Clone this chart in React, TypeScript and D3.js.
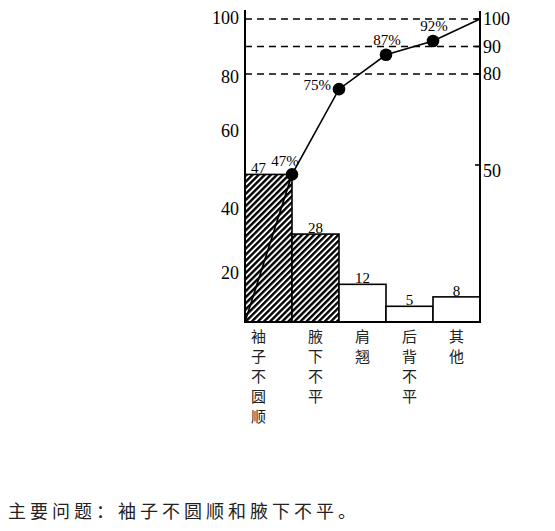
import React from "react";
import * as d3 from "d3";

const categories = ["袖子不圆顺", "腋下不平", "肩翘", "后背不平", "其他"];
const counts = [47, 28, 12, 5, 8];
const cumulative = [47, 75, 87, 92, 100];
const hatched = [true, true, false, false, false];
const leftTicks = [20, 40, 60, 80, 100];
const rightTicks = [50, 80, 90, 100];
const dashedLevels = [80, 90, 100];
const note = "主要问题：袖子不圆顺和腋下不平。";

export default function App() {
  const x = d3.scaleBand<string>().domain(categories).range([245, 480]).padding(0);
  // hand-drawn (non-uniform) vertical scale of the original figure
  const y = d3.scaleLinear().domain([0, 50, 80, 100]).range([322, 165, 74, 19]);
  const yLeftLabel = d3
    .scaleLinear()
    .domain([0, 20, 40, 60, 80, 100])
    .range([322, 273, 209, 131, 77, 18]);

  const pts: [number, number][] = [[x.range()[0], y(0)]];
  categories.forEach((c, i) => pts.push([(x(c) as number) + x.bandwidth(), y(cumulative[i])]));
  const line = d3.line();

  const serif = "'Liberation Serif', 'DejaVu Serif', serif";
  const cjk = "'Noto Sans CJK SC', sans-serif";

  const pctPlace = (i: number) => {
    if (i === 0) return { anchor: "middle", dx: -7, dy: -8 };
    if (i === 1) return { anchor: "end", dx: -8, dy: 1 };
    return { anchor: "middle", dx: 1, dy: -10 };
  };

  return (
    <svg
      width={555}
      height={531}
      style={{ position: "absolute", left: 0, top: 0, background: "#fff" }}
    >
      <defs>
        <pattern
          id="hatch"
          patternUnits="userSpaceOnUse"
          width={4.3}
          height={4.3}
          patternTransform="rotate(45)"
        >
          <rect width={4.3} height={4.3} fill="#fff" />
          <rect x={0} y={0} width={2.4} height={4.3} fill="#000" />
        </pattern>
      </defs>

      {/* bars */}
      {categories.map((c, i) => (
        <rect
          key={c}
          x={x(c)}
          y={y(counts[i])}
          width={x.bandwidth()}
          height={y(0) - y(counts[i])}
          fill={hatched[i] ? "url(#hatch)" : "#fff"}
          stroke="#000"
          strokeWidth={1.6}
        />
      ))}

      {/* bar values */}
      {categories.map((c, i) => (
        <text
          key={"v" + c}
          x={(x(c) as number) + x.bandwidth() / 2 + (i === 0 ? -10 : 0)}
          y={y(counts[i]) - 1}
          textAnchor="middle"
          fontFamily={serif}
          fontSize={15}
        >
          {counts[i]}
        </text>
      ))}

      {/* dashed reference lines */}
      {dashedLevels.map((v) => (
        <line
          key={"d" + v}
          x1={x.range()[0]}
          x2={x.range()[1]}
          y1={y(v)}
          y2={y(v)}
          stroke="#000"
          strokeWidth={1.6}
          strokeDasharray="7 5"
        />
      ))}

      {/* axes */}
      <line x1={245} x2={245} y1={10} y2={y(0)} stroke="#000" strokeWidth={2} />
      <line x1={480} x2={480} y1={11} y2={y(0)} stroke="#000" strokeWidth={2} />
      <line x1={244} x2={481} y1={y(0)} y2={y(0)} stroke="#000" strokeWidth={2} />
      {rightTicks.map((v) => (
        <line key={"rt" + v} x1={475} x2={480} y1={y(v)} y2={y(v)} stroke="#000" strokeWidth={1.6} />
      ))}

      {leftTicks.map((v) => (
        <text
          key={"l" + v}
          x={239}
          y={yLeftLabel(v)}
          dy="0.35em"
          textAnchor="end"
          fontFamily={serif}
          fontSize={18}
        >
          {v}
        </text>
      ))}
      {rightTicks.map((v) => (
        <text
          key={"r" + v}
          x={483}
          y={y(v) + (v === 50 ? 6 : 0)}
          dy="0.35em"
          textAnchor="start"
          fontFamily={serif}
          fontSize={18}
        >
          {v}
        </text>
      ))}

      {/* cumulative line */}
      <path d={line(pts) as string} fill="none" stroke="#000" strokeWidth={1.6} />
      {categories.slice(0, 4).map((c, i) => (
        <circle key={"p" + c} cx={pts[i + 1][0]} cy={pts[i + 1][1]} r={6.3} fill="#000" />
      ))}
      {categories.slice(0, 4).map((c, i) => {
        const p = pctPlace(i);
        return (
          <text
            key={"pl" + c}
            x={pts[i + 1][0] + p.dx}
            y={pts[i + 1][1] + p.dy}
            textAnchor={p.anchor as any}
            fontFamily={serif}
            fontSize={15}
          >
            {cumulative[i] + "%"}
          </text>
        );
      })}

      {/* vertical category labels */}
      {categories.map((c, i) => (
        <text
          key={"c" + c}
          fontFamily={cjk}
          fontSize={15}
          textAnchor="middle"
          fill="#222"
        >
          {Array.from(c).map((ch, j) => (
            <tspan
              key={j}
              x={(x(c) as number) + x.bandwidth() / 2 + (i === 0 ? -10 : 0)}
              y={337 + j * 20}
              dy="0.35em"
            >
              {ch}
            </tspan>
          ))}
        </text>
      ))}

      <text x={8} y={518} fontFamily={cjk} fontSize={18} letterSpacing={4} fill="#222">
        {note}
      </text>
    </svg>
  );
}
